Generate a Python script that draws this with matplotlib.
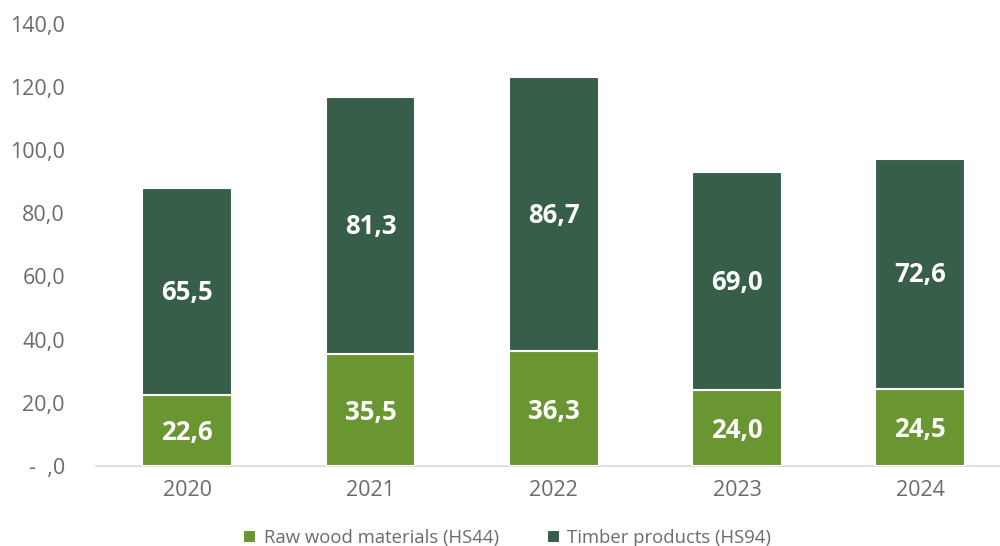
import matplotlib.pyplot as plt
import numpy as np
from matplotlib.ticker import FuncFormatter

plt.rcParams['font.family'] = ['Open Sans', 'DejaVu Sans']

years = ['2020', '2021', '2022', '2023', '2024']
raw_wood = [22.6, 35.5, 36.3, 24.0, 24.5]
timber = [65.5, 81.3, 86.7, 69.0, 72.6]

raw_color = '#6a9631'
timber_color = '#365e48'
grey = '#6b6b6b'

fig = plt.figure(figsize=(10, 5.46), dpi=100)
# plot area runs a little past the right edge of the figure
ax = fig.add_axes([0.0955, 0.1465, 0.9165, 0.81])

x = np.arange(len(years))
w = 0.49
ax.bar(x, raw_wood, w, color=raw_color, edgecolor='white', linewidth=1.5,
       label='Raw wood materials (HS44)', zorder=3)
ax.bar(x, timber, w, bottom=raw_wood, color=timber_color, edgecolor='white',
       linewidth=1.5, label='Timber products (HS94)', zorder=3)

def fmt(v):
    return f'{v:.1f}'.replace('.', ',')

for i in range(len(years)):
    ax.text(x[i], raw_wood[i] / 2 - 0.8, fmt(raw_wood[i]), ha='center', va='center',
            color='white', fontsize=18.5, fontweight='bold', zorder=4)
    ax.text(x[i], raw_wood[i] + timber[i] / 2 - 0.3, fmt(timber[i]), ha='center', va='center',
            color='white', fontsize=18.5, fontweight='bold', zorder=4)

ax.set_ylim(0, 140)
ax.set_yticks(np.arange(0, 141, 20))
ax.yaxis.set_major_formatter(FuncFormatter(lambda v, p: '-  ,0' if v == 0 else fmt(v)))
ax.set_xlim(-0.5, len(years) - 0.5)
ax.set_xticks(x)
ax.set_xticklabels(years)

for s in ['top', 'right', 'left']:
    ax.spines[s].set_visible(False)
ax.spines['bottom'].set_color('#d9d9d9')
ax.spines['bottom'].set_linewidth(1.2)
ax.tick_params(axis='both', length=0, labelsize=15.5, colors=grey)
ax.tick_params(axis='y', pad=22)
ax.tick_params(axis='x', pad=10)

fig.legend(loc='lower center', bbox_to_anchor=(0.507, -0.032), ncol=2, frameon=False,
           fontsize=13.3, labelcolor=grey, handlelength=0.7, handleheight=0.7,
           handletextpad=0.4, columnspacing=2.6)

fig.savefig('out.png', dpi=100)
